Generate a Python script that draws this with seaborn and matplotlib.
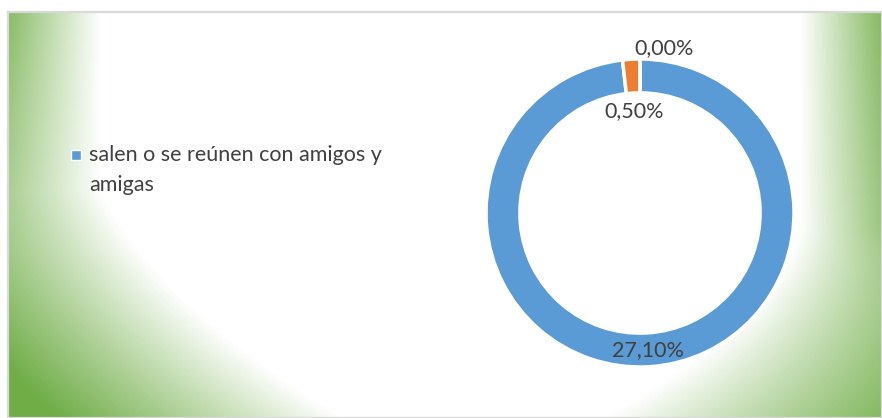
import textwrap
import numpy as np
import matplotlib
matplotlib.use("Agg")
import matplotlib.pyplot as plt
from matplotlib.lines import Line2D
from matplotlib.patches import Rectangle
import seaborn as sns

# datos
categorias = ["salen o se reúnen con amigos y amigas", "", ""]
valores = [27.10, 0.50, 0.00]
etiquetas = ["27,10%", "0,50%", "0,00%"]
colores = ["#5B9BD5", "#ED7D31", "#A5A5A5"]

sns.set_theme(style="white")
plt.rcParams["font.family"] = ["Lato", "DejaVu Sans"]
texto = "#404040"

W, H = 882, 418
fig = plt.figure(figsize=(W / 100, H / 100), dpi=100)
fig.patch.set_facecolor("white")

# fondo: blanco al centro, verde en los lados y esquinas inferiores
bg = fig.add_axes([8 / W, 0, (W - 8) / W, (H - 12) / H])
bg.set_axis_off()
X, Y = np.meshgrid(np.arange(8, W), np.arange(12, H).astype(float))
bl = np.clip(Y - 190, 0, None)
br = np.clip(Y - 230, 0, None)
xl = 100 + 0.5 * bl + 0.0025 * bl ** 2
xr = 800 - 0.3 * br - 0.004 * br ** 2
wl = 110 + 60 * np.clip((Y - 12) / 240, 0, 1) + 0.5 * bl
wr = 95 + 0.1 * (Y - 12) + 1.0 * br
tl = np.clip((xl - X) / wl, 0, 1)
tr = np.clip((X - xr) / wr, 0, 1)
t = np.maximum(tl, tr)
verde = np.array([0.44, 0.68, 0.28])
img = (1 - t[..., None]) * np.ones(3) + t[..., None] * verde
bg.imshow(img, aspect="auto", extent=[0, 1, 0, 1], origin="upper")
fig.patches.append(Rectangle((8 / W, 0), (W - 8) / W, (H - 12) / H, transform=fig.transFigure,
                             fill=False, edgecolor="#D9D9D9", linewidth=1.6, zorder=5))

# dona
cx, cy, r = 640, 213, 154
ax = fig.add_axes([(cx - r) / W, (H - cy - r) / H, 2 * r / W, 2 * r / H])
ax.set_axis_off()
wedges, _ = ax.pie(valores, colors=colores, startangle=90, counterclock=False,
                   radius=1, wedgeprops=dict(width=0.22, edgecolor="white", linewidth=2.5))
ax.set_xlim(-1.0, 1.0)
ax.set_ylim(-1.0, 1.0)

# etiquetas de datos
radios = [0.89, 0.66, 1.07]
desplaz = [(0, 0), (0, 0), (24 / r, 0)]
for w, lab, rr, (dx, dy) in zip(wedges, etiquetas, radios, desplaz):
    ang = np.deg2rad((w.theta1 + w.theta2) / 2)
    ax.text(rr * np.cos(ang) + dx, rr * np.sin(ang) + dy, lab, ha="center", va="center",
            fontsize=15.5, color=texto)

# leyenda (solo se ve la primera categoria)
handle = Line2D([], [], marker="s", linestyle="", color=colores[0], markersize=7.5,
                markeredgecolor="white", markeredgewidth=1)
leg = fig.legend([handle], [textwrap.fill(categorias[0], 30)], loc="upper left",
                 bbox_to_anchor=(70 / W, 1 - 145 / H), frameon=False, fontsize=15.5,
                 labelcolor=texto, handlelength=0.6, handletextpad=0.3, borderpad=0, borderaxespad=0)
for tx in leg.get_texts():
    tx.set_linespacing(1.65)
# el marcador va alineado con la primera linea, como en Excel
for h in leg.legend_handles:
    h.set_ydata(np.asarray(h.get_ydata()) + 11)

fig.savefig("out.png", dpi=100)
